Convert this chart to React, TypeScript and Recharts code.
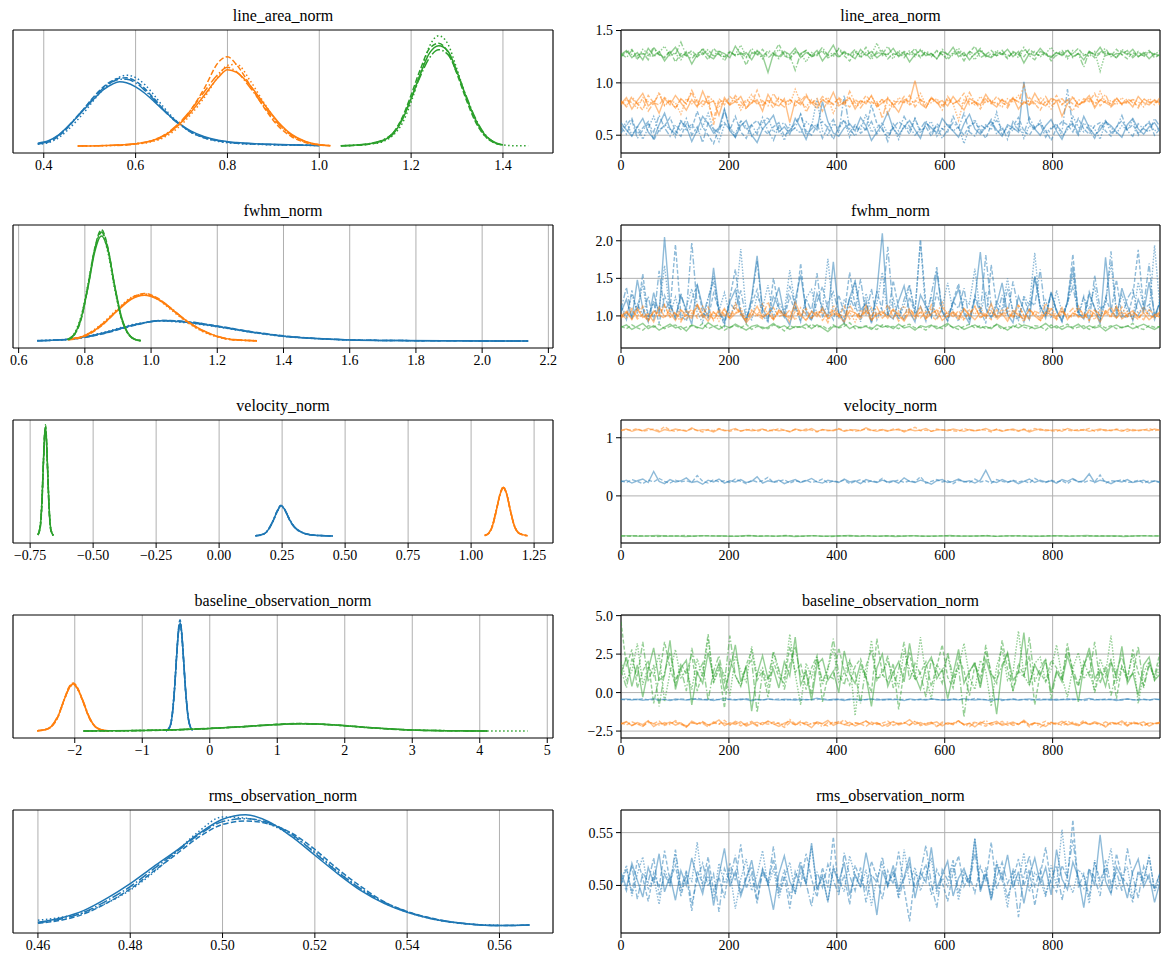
import { LineChart, Line, XAxis, YAxis, CartesianGrid, ReferenceArea } from "recharts";

const C0 = "#1f77b4";
const C1 = "#ff7f0e";
const C2 = "#2ca02c";
const FONT = "'Liberation Serif', 'DejaVu Serif', serif";

// ---- line_area_norm ----
const laGridBlue = [0.387, 0.41, 0.43, 0.45, 0.47, 0.49, 0.51, 0.53, 0.55, 0.565, 0.58, 0.6, 0.62, 0.64, 0.66, 0.68, 0.7, 0.72, 0.75, 0.78, 0.82, 0.86, 0.9, 0.95, 1.0];
const laKdeBlue = [
  [2.5, 4.5, 9, 16, 24, 32.5, 41, 48.5, 53.5, 55.3, 54.5, 51, 45.5, 38.5, 31, 24, 18, 13, 8, 5, 3, 2, 1.5, 1, 0.5],
  [1.8, 3.5, 8, 15, 24, 33.5, 43, 51, 56.5, 58.5, 58.8, 56, 49.5, 41, 32, 24, 17.5, 12, 7, 4.5, 2.5, 1.8, 1.2, 0.8, 0.5],
  [2, 4, 8.5, 15.5, 24.5, 33, 42, 50, 55.5, 57.5, 57.5, 54.5, 48, 40, 31.5, 23.5, 17.5, 12.5, 7.5, 4.5, 2.6, 1.8, 1.3, 0.9, 0.5],
  [1.5, 3, 6.5, 13, 21, 30, 40, 49, 56, 59.5, 61, 59, 53, 44, 34, 25, 18, 12, 7, 4, 2.2, 1.5, 1, 0.7, 0.4],
];
const laGridOrange = [0.474, 0.52, 0.56, 0.6, 0.63, 0.66, 0.69, 0.72, 0.75, 0.78, 0.8, 0.82, 0.85, 0.88, 0.91, 0.94, 0.97, 1.0, 1.024];
const laKdeOrange = [
  [0.1, 0.3, 0.8, 2, 4, 8.5, 17, 29, 44, 59, 65.8, 63.5, 52, 36, 21, 10, 4, 1.2, 0.4],
  [null, null, 0.5, 1.8, 3.8, 8, 17, 31, 50, 72, 77, 70, 52, 33, 17.5, 8, 3, 0.9, 0.3],
  [0.1, 0.3, 0.8, 2.1, 4.2, 9, 18, 31, 47, 62, 68, 64, 50, 34, 19.5, 9.5, 3.8, 1.1, 0.4],
  [0.1, 0.2, 0.6, 1.6, 3.3, 7, 15, 27, 42, 60, 69.5, 70.5, 56, 37, 20, 9, 3.5, 1, 0.3],
];
const laGridGreen = [1.047, 1.08, 1.11, 1.14, 1.16, 1.18, 1.2, 1.22, 1.24, 1.26, 1.28, 1.3, 1.32, 1.34, 1.36, 1.38, 1.4, 1.43, 1.455];
const laKdeGreen = [
  [0.3, 0.8, 2, 5, 10, 22, 41, 62, 80, 86.5, 82, 64, 42, 23, 10, 3.5, 1, null, null],
  [0.2, 0.6, 1.8, 5, 11, 24, 44, 66, 84, 88.5, 81, 62, 40, 21, 9, 3, 0.8, null, null],
  [0.3, 0.8, 2.2, 5.5, 11, 23, 41, 60, 76, 83, 79, 63, 43, 24, 10.5, 3.5, 1, null, null],
  [0.3, 0.7, 1.6, 4, 9, 19, 38, 62, 86, 95, 88, 66, 42, 22, 9, 3, 1, 0.2, 0.2],
];
const laTraceBlue = [
  [0.62, 0.55, 0.49, 0.58, 0.66, 0.53, 0.47, 0.6, 0.71, 0.56, 0.51, 0.63, 0.58, 0.44, 0.55, 0.68, 0.61, 0.52, 0.57, 0.75,
   0.54, 0.48, 0.59, 0.64, 0.5, 0.43, 0.56, 0.62, 0.69, 0.53, 0.58, 0.51, 0.66, 0.57, 0.46, 0.6, 0.55, 0.82, 0.63, 0.52,
   0.49, 0.57, 0.61, 0.54, 0.67, 0.59, 0.45, 0.53, 0.6, 0.72, 0.56, 0.5, 0.58, 0.64, 0.55, 0.47, 0.62, 0.57, 0.52, 0.66,
   0.59, 0.54, 0.48, 0.61, 0.7, 0.56, 0.51, 0.58, 0.63, 0.55, 0.49, 0.6, 0.57, 0.53, 1.01, 0.62, 0.56, 0.5, 0.59, 0.65,
   0.54, 0.46, 0.58, 0.61, 0.52, 0.68, 0.57, 0.5, 0.55, 0.63, 0.59, 0.53, 0.48, 0.6, 0.66, 0.56, 0.51, 0.58, 0.62, 0.54],
  [0.52, 0.6, 0.66, 0.51, 0.57, 0.63, 0.45, 0.55, 0.59, 0.67, 0.54, 0.49, 0.61, 0.56, 0.73, 0.58, 0.5, 0.42, 0.57, 0.62,
   0.55, 0.68, 0.53, 0.47, 0.6, 0.64, 0.56, 0.51, 0.58, 0.62, 0.49, 0.55, 0.61, 0.7, 0.54, 0.5, 0.59, 0.63, 0.57, 0.46,
   0.58, 0.65, 0.53, 0.6, 0.52, 0.56, 0.79, 0.61, 0.55, 0.48, 0.57, 0.63, 0.59, 0.51, 0.66, 0.54, 0.58, 0.49, 0.61, 0.56,
   0.53, 0.68, 0.57, 0.5, 0.59, 0.62, 0.55, 0.47, 0.6, 0.64, 0.56, 0.52, 0.59, 0.67, 0.54, 0.5, 0.58, 0.61, 0.55, 0.45,
   0.57, 0.63, 0.6, 0.53, 0.66, 0.56, 0.51, 0.59, 0.62, 0.54, 0.49, 0.58, 0.64, 0.55, 0.6, 0.52, 0.57, 0.63, 0.5, 0.56],
  [0.58, 0.51, 0.64, 0.47, 0.55, 0.61, 0.53, 0.69, 0.57, 0.49, 0.6, 0.54, 0.66, 0.5, 0.58, 0.43, 0.62, 0.56, 0.52, 0.74,
   0.57, 0.48, 0.63, 0.55, 0.6, 0.51, 0.67, 0.54, 0.45, 0.59, 0.62, 0.53, 0.57, 0.7, 0.5, 0.56, 0.61, 0.47, 0.58, 0.65,
   0.52, 0.88, 0.56, 0.49, 0.6, 0.55, 0.63, 0.51, 0.57, 0.44, 0.61, 0.54, 0.68, 0.58, 0.5, 0.56, 0.64, 0.52, 0.59, 0.47,
   0.55, 0.62, 0.57, 0.71, 0.53, 0.49, 0.6, 0.56, 0.65, 0.51, 0.58, 0.46, 0.63, 0.55, 0.52, 0.67, 0.57, 0.61, 0.48, 0.56,
   0.6, 0.53, 0.94, 0.58, 0.5, 0.62, 0.55, 0.47, 0.59, 0.64, 0.52, 0.57, 0.69, 0.54, 0.49, 0.61, 0.56, 0.53, 0.66, 0.58],
  [0.55, 0.63, 0.5, 0.59, 0.46, 0.57, 0.68, 0.53, 0.6, 0.56, 0.48, 0.65, 0.54, 0.61, 0.52, 0.58, 0.71, 0.55, 0.44, 0.6,
   0.57, 0.51, 0.64, 0.58, 0.49, 0.55, 0.62, 0.67, 0.53, 0.57, 0.45, 0.6, 0.56, 0.52, 0.63, 0.58, 0.85, 0.54, 0.5, 0.61,
   0.56, 0.64, 0.48, 0.59, 0.55, 0.7, 0.53, 0.57, 0.62, 0.51, 0.58, 0.46, 0.6, 0.55, 0.66, 0.52, 0.59, 0.63, 0.49, 0.56,
   0.61, 0.54, 0.58, 0.42, 0.57, 0.65, 0.53, 0.6, 0.55, 0.72, 0.5, 0.58, 0.54, 0.62, 0.47, 0.59, 0.56, 0.64, 0.52, 0.57,
   0.61, 0.49, 0.55, 0.68, 0.58, 0.53, 0.6, 0.56, 0.46, 0.63, 0.57, 0.52, 0.59, 0.55, 0.65, 0.5, 0.58, 0.62, 0.54, 0.57],
];
const laTraceOrange = [
  [0.8, 0.86, 0.75, 0.83, 0.9, 0.78, 0.82, 0.71, 0.85, 0.79, 0.88, 0.81, 0.74, 0.84, 0.77, 0.92, 0.8, 0.83, 0.69, 0.86,
   0.79, 0.82, 0.87, 0.76, 0.81, 0.84, 0.73, 0.89, 0.8, 0.78, 0.85, 0.62, 0.83, 0.79, 0.87, 0.81, 0.76, 0.84, 0.8, 0.91,
   0.78, 0.82, 0.86, 0.75, 0.83, 0.8, 0.88, 0.77, 0.81, 0.85, 0.79, 0.72, 0.84, 0.82, 1.02, 0.8, 0.76, 0.86, 0.81, 0.83,
   0.78, 0.87, 0.8, 0.74, 0.85, 0.82, 0.79, 0.89, 0.81, 0.77, 0.84, 0.8, 0.86, 0.75, 0.82, 0.79, 0.9, 0.81, 0.78, 0.85,
   0.83, 0.68, 0.8, 0.86, 0.79, 0.82, 0.88, 0.76, 0.84, 0.81, 0.78, 0.85, 0.8, 0.83, 0.77, 0.87, 0.81, 0.79, 0.84, 0.8],
  [0.83, 0.77, 0.85, 0.8, 0.74, 0.88, 0.81, 0.79, 0.86, 0.82, 0.76, 0.84, 0.8, 0.91, 0.78, 0.83, 0.81, 0.65, 0.85, 0.79,
   0.87, 0.82, 0.78, 0.84, 0.8, 0.93, 0.79, 0.83, 0.76, 0.86, 0.81, 0.84, 0.78, 0.82, 0.89, 0.8, 0.85, 0.73, 0.83, 0.79,
   0.86, 0.81, 0.77, 0.84, 0.8, 0.88, 0.82, 0.78, 0.85, 0.7, 0.83, 0.8, 0.87, 0.79, 0.82, 0.84, 0.76, 0.86, 0.81, 0.78,
   0.85, 0.8, 0.83, 0.9, 0.79, 0.82, 0.75, 0.84, 0.8, 0.87, 0.81, 0.78, 0.85, 0.82, 0.79, 0.86, 0.8, 0.74, 0.83, 0.81,
   0.88, 0.79, 0.84, 0.8, 0.77, 0.85, 0.82, 0.9, 0.78, 0.83, 0.8, 0.86, 0.79, 0.82, 0.84, 0.76, 0.85, 0.81, 0.83, 0.79],
  [0.82, 0.78, 0.87, 0.8, 0.84, 0.73, 0.81, 0.89, 0.79, 0.83, 0.76, 0.85, 0.8, 0.93, 0.82, 0.77, 0.86, 0.6, 0.81, 0.84,
   0.79, 0.88, 0.82, 0.75, 0.85, 0.8, 0.83, 0.78, 0.9, 0.81, 0.77, 0.84, 0.8, 0.86, 0.72, 0.82, 0.79, 0.87, 0.83, 0.8,
   0.85, 0.78, 0.92, 0.81, 0.76, 0.84, 0.8, 0.82, 0.66, 0.86, 0.79, 0.83, 0.81, 0.88, 0.77, 0.84, 0.8, 0.85, 0.82, 0.74,
   0.87, 0.8, 0.83, 0.79, 0.91, 0.81, 0.78, 0.86, 0.82, 0.8, 0.84, 0.76, 0.85, 0.81, 0.98, 0.79, 0.83, 0.8, 0.87, 0.78,
   0.82, 0.85, 0.79, 0.73, 0.84, 0.81, 0.86, 0.8, 0.83, 0.89, 0.77, 0.82, 0.8, 0.85, 0.81, 0.78, 0.84, 0.82, 0.79, 0.86],
  [0.79, 0.84, 0.81, 0.76, 0.86, 0.82, 0.8, 0.91, 0.78, 0.83, 0.81, 0.7, 0.85, 0.8, 0.84, 0.79, 0.88, 0.82, 0.77, 0.83,
   0.8, 0.86, 0.74, 0.82, 0.89, 0.81, 0.78, 0.84, 0.8, 0.85, 0.82, 0.79, 0.94, 0.81, 0.77, 0.84, 0.8, 0.83, 0.86, 0.71,
   0.82, 0.8, 0.85, 0.78, 0.83, 0.81, 0.87, 0.79, 0.84, 0.8, 0.76, 0.86, 0.82, 0.8, 0.83, 0.9, 0.79, 0.81, 0.85, 0.78,
   0.83, 0.8, 0.64, 0.84, 0.82, 0.79, 0.87, 0.81, 0.84, 0.8, 0.77, 0.85, 0.82, 0.88, 0.8, 0.83, 0.79, 0.86, 0.81, 0.75,
   0.84, 0.8, 0.83, 0.87, 0.79, 0.82, 0.85, 0.78, 0.92, 0.81, 0.83, 0.79, 0.86, 0.8, 0.84, 0.82, 0.77, 0.85, 0.81, 0.83],
];
const laTraceGreen = [
  [1.27, 1.31, 1.24, 1.29, 1.22, 1.33, 1.26, 1.3, 1.21, 1.28, 1.34, 1.25, 1.29, 1.18, 1.27, 1.32, 1.26, 1.23, 1.3, 1.28,
   1.24, 1.35, 1.27, 1.29, 1.22, 1.31, 1.26, 1.1, 1.28, 1.25, 1.3, 1.27, 1.33, 1.24, 1.29, 1.26, 1.31, 1.21, 1.28, 1.36,
   1.25, 1.29, 1.27, 1.23, 1.32, 1.26, 1.3, 1.24, 1.28, 1.27, 1.33, 1.25, 1.29, 1.2, 1.27, 1.31, 1.26, 1.28, 1.23, 1.3,
   1.27, 1.34, 1.25, 1.29, 1.22, 1.28, 1.31, 1.26, 1.24, 1.29, 1.27, 1.32, 1.25, 1.3, 1.19, 1.28, 1.26, 1.33, 1.27, 1.24,
   1.29, 1.26, 1.31, 1.25, 1.28, 1.22, 1.3, 1.27, 1.34, 1.26, 1.28, 1.24, 1.3, 1.27, 1.32, 1.25, 1.29, 1.23, 1.28, 1.26],
  [1.25, 1.29, 1.32, 1.23, 1.28, 1.26, 1.34, 1.27, 1.24, 1.3, 1.2, 1.28, 1.26, 1.31, 1.25, 1.29, 1.22, 1.33, 1.27, 1.25,
   1.3, 1.26, 1.28, 1.17, 1.29, 1.27, 1.32, 1.24, 1.28, 1.37, 1.26, 1.23, 1.29, 1.27, 1.31, 1.25, 1.28, 1.3, 1.24, 1.27,
   1.32, 1.26, 1.21, 1.29, 1.27, 1.34, 1.25, 1.28, 1.31, 1.23, 1.28, 1.26, 1.3, 1.27, 1.33, 1.24, 1.29, 1.25, 1.31, 1.27,
   1.22, 1.28, 1.3, 1.26, 1.29, 1.35, 1.24, 1.27, 1.31, 1.26, 1.28, 1.23, 1.3, 1.27, 1.25, 1.32, 1.28, 1.26, 1.29, 1.21,
   1.27, 1.31, 1.25, 1.28, 1.33, 1.26, 1.29, 1.24, 1.28, 1.3, 1.26, 1.32, 1.27, 1.23, 1.29, 1.25, 1.28, 1.31, 1.24, 1.27],
  [1.28, 1.24, 1.31, 1.26, 1.29, 1.22, 1.33, 1.27, 1.25, 1.3, 1.27, 1.39, 1.26, 1.23, 1.29, 1.27, 1.32, 1.25, 1.28, 1.21,
   1.3, 1.26, 1.29, 1.24, 1.33, 1.27, 1.25, 1.31, 1.28, 1.23, 1.29, 1.26, 1.12, 1.28, 1.31, 1.25, 1.27, 1.34, 1.26, 1.29,
   1.24, 1.3, 1.27, 1.32, 1.25, 1.28, 1.22, 1.3, 1.27, 1.35, 1.26, 1.29, 1.24, 1.31, 1.27, 1.25, 1.3, 1.28, 1.23, 1.32,
   1.27, 1.26, 1.29, 1.21, 1.3, 1.27, 1.33, 1.25, 1.28, 1.26, 1.31, 1.24, 1.29, 1.27, 1.34, 1.26, 1.22, 1.3, 1.28, 1.25,
   1.29, 1.27, 1.32, 1.24, 1.28, 1.15, 1.3, 1.26, 1.29, 1.33, 1.25, 1.28, 1.27, 1.31, 1.24, 1.29, 1.26, 1.3, 1.27, 1.25],
  [1.26, 1.3, 1.27, 1.23, 1.32, 1.28, 1.25, 1.29, 1.35, 1.26, 1.28, 1.22, 1.3, 1.27, 1.25, 1.33, 1.28, 1.26, 1.31, 1.24,
   1.29, 1.27, 1.36, 1.25, 1.28, 1.3, 1.23, 1.29, 1.26, 1.32, 1.27, 1.24, 1.3, 1.28, 1.2, 1.29, 1.26, 1.31, 1.27, 1.25,
   1.33, 1.28, 1.26, 1.3, 1.24, 1.29, 1.27, 1.38, 1.26, 1.28, 1.23, 1.31, 1.27, 1.29, 1.25, 1.32, 1.28, 1.26, 1.3, 1.27,
   1.24, 1.29, 1.33, 1.26, 1.28, 1.22, 1.3, 1.27, 1.25, 1.31, 1.28, 1.26, 1.29, 1.24, 1.32, 1.27, 1.3, 1.25, 1.28, 1.34,
   1.26, 1.29, 1.23, 1.31, 1.27, 1.28, 1.25, 1.3, 1.11, 1.29, 1.27, 1.24, 1.32, 1.28, 1.26, 1.3, 1.25, 1.29, 1.27, 1.31],
];

// ---- fwhm_norm ----
const fwGridBlue = [0.656, 0.75, 0.85, 0.95, 1.03, 1.1, 1.2, 1.3, 1.4, 1.5, 1.6, 1.75, 1.9, 2.05, 2.139];
const fwKdeBlue = [
  [0.3, 1.5, 6.5, 14, 17.5, 16.5, 12.5, 7.8, 4.2, 2.1, 1.0, 0.4, 0.2, 0.1, 0.1],
  [0.3, 1.3, 6, 13.5, 17.8, 17, 13, 8.2, 4.5, 2.2, 1.0, 0.4, 0.2, 0.1, 0.1],
  [0.3, 1.4, 6.2, 13.8, 17.6, 16.8, 12.8, 8, 4.3, 2.1, 1.0, 0.4, 0.2, 0.1, 0.1],
  [0.4, 1.6, 7, 14.5, 17.2, 16, 12.2, 7.6, 4, 2, 0.9, 0.4, 0.2, 0.1, 0.1],
];
const fwGridOrange = [0.75, 0.8, 0.85, 0.9, 0.94, 0.98, 1.02, 1.06, 1.1, 1.15, 1.2, 1.25, 1.32];
const fwKdeOrange = [
  [1.5, 4.5, 13.5, 26.5, 36, 39.5, 36, 28, 19, 10, 4, 1.2, 0.3],
  [1, 4, 13, 27, 37, 41, 37, 28, 18.5, 9.5, 3.8, 1, 0.3],
  [1.3, 4.8, 14, 27, 36.5, 40, 36.5, 28.5, 19, 10, 4.2, 1.3, 0.3],
  [1.2, 5, 14.5, 28, 37.5, 40.5, 36, 27, 18, 9, 3.5, 1, 0.2],
];
const fwGridGreen = [0.748, 0.77, 0.79, 0.81, 0.83, 0.85, 0.87, 0.89, 0.91, 0.93, 0.95, 0.969];
const fwKdeGreen = [
  [1.3, 6.5, 21, 47, 77, 90.5, 78, 48, 21.5, 7, 1.6, 0.4],
  [1.0, 6, 20, 48, 80, 96, 80, 47, 20, 6.5, 1.5, 0.3],
  [1.2, 6.2, 21, 48, 79, 94, 79, 47, 20.5, 6.8, 1.5, 0.3],
  [1.5, 7.5, 23, 50, 80, 93, 76, 45, 20, 6.5, 1.5, 0.4],
];
const fwTraceBlue = [
  [1.05, 1.22, 0.96, 1.48, 1.1, 0.92, 1.31, 1.02, 2.05, 1.15, 0.98, 1.27, 1.08, 0.89, 1.42, 1.12, 1.0, 1.64, 1.06, 0.94,
   1.19, 1.35, 1.03, 0.91, 1.25, 1.8, 1.09, 0.97, 1.14, 1.38, 1.01, 0.88, 1.21, 1.55, 1.07, 0.95, 1.3, 1.11, 0.99, 1.72,
   1.04, 0.93, 1.24, 1.46, 1.08, 1.16, 0.9, 1.33, 2.1, 1.02, 0.96, 1.2, 1.4, 1.06, 0.92, 1.28, 1.13, 0.99, 1.6, 1.05,
   0.94, 1.18, 1.36, 1.03, 0.9, 1.23, 1.85, 1.1, 0.97, 1.15, 1.44, 1.02, 0.91, 1.26, 1.08, 0.95, 1.52, 1.12, 1.0, 1.32,
   1.06, 0.93, 1.2, 1.66, 1.04, 0.96, 1.29, 1.11, 0.89, 1.78, 1.07, 0.98, 1.37, 1.14, 0.94, 1.22, 1.05, 1.45, 1.01, 1.17],
  [1.12, 0.95, 1.34, 1.03, 1.56, 0.99, 1.18, 0.9, 1.27, 1.07, 1.95, 1.01, 0.93, 1.22, 1.41, 1.05, 0.97, 1.3, 1.09, 0.87,
   1.24, 1.62, 1.04, 0.96, 1.16, 1.35, 1.0, 0.92, 1.5, 1.11, 0.98, 1.26, 1.06, 1.7, 1.02, 0.94, 1.19, 1.39, 1.08, 0.95,
   1.28, 1.03, 1.58, 1.13, 0.97, 1.21, 0.91, 1.33, 1.07, 1.0, 1.47, 1.1, 0.94, 1.25, 1.04, 2.02, 1.15, 0.98, 1.31, 1.06,
   0.93, 1.2, 1.43, 1.05, 0.96, 1.27, 1.09, 0.9, 1.68, 1.12, 1.01, 1.36, 1.07, 0.95, 1.23, 1.04, 1.53, 1.14, 0.97, 1.29,
   1.08, 0.92, 1.19, 1.82, 1.03, 0.99, 1.32, 1.1, 0.94, 1.24, 1.06, 1.48, 1.01, 0.97, 1.26, 1.88, 1.09, 1.15, 0.95, 1.21],
  [1.09, 1.38, 0.97, 1.16, 1.02, 1.26, 0.93, 1.6, 1.07, 1.19, 0.95, 1.3, 1.04, 1.98, 1.12, 0.99, 1.24, 1.45, 1.03, 0.91,
   1.17, 1.08, 1.34, 0.96, 1.21, 1.73, 1.05, 0.94, 1.27, 1.11, 1.0, 1.4, 1.14, 0.92, 1.23, 1.06, 1.57, 0.98, 1.18, 1.32,
   1.04, 0.9, 1.25, 1.09, 1.49, 1.01, 1.36, 0.95, 1.15, 1.92, 1.07, 0.97, 1.22, 1.42, 1.03, 1.13, 0.93, 1.29, 1.65, 1.06,
   0.99, 1.19, 1.1, 1.37, 0.94, 1.24, 1.04, 1.81, 1.12, 0.97, 1.28, 1.02, 1.46, 1.08, 0.92, 1.2, 1.14, 1.62, 1.0, 1.31,
   1.06, 0.95, 1.18, 1.39, 1.03, 1.26, 0.91, 1.54, 1.09, 1.16, 1.86, 1.05, 0.98, 1.23, 1.35, 1.01, 1.12, 1.7, 0.96, 1.19],
  [1.14, 0.99, 1.29, 1.06, 1.43, 0.94, 1.2, 1.08, 1.67, 1.02, 1.25, 0.96, 1.12, 1.36, 1.04, 0.91, 1.22, 1.53, 1.07, 1.31,
   1.0, 1.15, 1.89, 1.03, 0.95, 1.27, 1.1, 1.41, 0.98, 1.18, 1.05, 1.61, 1.13, 0.93, 1.24, 1.35, 1.01, 1.09, 1.76, 1.04,
   0.97, 1.21, 1.12, 1.47, 0.92, 1.3, 1.06, 1.17, 1.58, 1.0, 1.23, 0.95, 1.14, 1.38, 1.07, 1.99, 1.02, 1.26, 0.96, 1.11,
   1.44, 1.05, 0.93, 1.22, 1.16, 1.63, 1.03, 1.32, 0.98, 1.19, 1.08, 1.5, 1.01, 0.94, 1.27, 1.13, 1.84, 1.06, 1.21, 0.97,
   1.34, 1.04, 1.15, 1.56, 0.99, 1.24, 1.09, 1.4, 0.95, 1.18, 1.71, 1.02, 1.28, 1.07, 0.96, 1.45, 1.12, 1.03, 1.94, 1.1],
];
const fwTraceOrange = [
  [1.0, 1.06, 0.95, 1.09, 0.98, 1.03, 0.92, 1.12, 0.99, 1.04, 0.94, 1.08, 1.01, 0.97, 1.15, 1.02, 0.93, 1.05, 0.99, 1.1,
   0.96, 1.03, 1.07, 0.91, 1.0, 1.13, 0.98, 1.04, 0.95, 1.08, 1.01, 0.97, 1.18, 1.02, 0.94, 1.06, 0.99, 1.11, 0.96, 1.03,
   1.0, 0.92, 1.07, 1.04, 0.98, 1.14, 0.95, 1.02, 1.06, 0.97, 1.09, 1.01, 0.93, 1.05, 0.99, 1.12, 0.96, 1.03, 1.08, 0.94,
   1.0, 1.06, 0.97, 1.1, 1.02, 0.95, 1.04, 0.99, 1.16, 0.98, 1.03, 0.93, 1.07, 1.01, 0.96, 1.09, 1.0, 0.94, 1.05, 1.02,
   0.98, 1.11, 0.95, 1.04, 1.0, 0.97, 1.08, 1.03, 0.92, 1.06, 0.99, 1.13, 0.96, 1.02, 1.07, 0.98, 1.04, 0.95, 1.01, 1.05],
  [0.97, 1.04, 1.1, 0.96, 1.02, 0.93, 1.07, 1.0, 1.14, 0.98, 1.05, 0.95, 1.01, 1.09, 0.97, 1.03, 1.12, 0.94, 1.06, 1.0,
   0.98, 1.17, 1.02, 0.95, 1.08, 1.01, 0.96, 1.04, 1.11, 0.99, 1.03, 0.92, 1.06, 1.0, 1.1, 0.97, 1.05, 0.94, 1.02, 1.08,
   0.99, 1.13, 0.96, 1.03, 1.0, 1.07, 0.93, 1.05, 1.01, 1.15, 0.98, 1.04, 0.95, 1.09, 1.02, 0.97, 1.06, 1.0, 0.94, 1.11,
   1.03, 0.99, 1.07, 0.96, 1.04, 1.12, 0.98, 1.02, 0.95, 1.08, 1.01, 1.05, 0.97, 1.14, 1.0, 0.96, 1.06, 1.03, 0.99, 1.09,
   0.95, 1.04, 1.01, 0.98, 1.1, 1.02, 0.94, 1.07, 1.0, 1.03, 1.12, 0.97, 1.05, 0.99, 1.02, 0.95, 1.08, 1.01, 0.98, 1.04],
  [1.02, 0.96, 1.08, 0.99, 1.13, 0.94, 1.05, 1.01, 0.97, 1.1, 1.03, 0.92, 1.07, 1.0, 1.16, 0.98, 1.04, 0.95, 1.09, 1.02,
   0.97, 1.12, 1.01, 0.93, 1.06, 1.03, 0.99, 1.19, 0.96, 1.05, 1.0, 1.08, 0.94, 1.11, 1.02, 0.97, 1.06, 1.04, 0.91, 1.09,
   1.01, 0.98, 1.14, 1.03, 0.95, 1.07, 1.0, 1.12, 0.97, 1.04, 1.08, 0.93, 1.02, 1.1, 0.99, 1.05, 0.96, 1.15, 1.01, 0.98,
   1.06, 1.03, 0.94, 1.09, 1.0, 1.13, 0.97, 1.04, 1.07, 0.95, 1.02, 1.11, 0.99, 1.05, 0.92, 1.08, 1.03, 0.97, 1.17, 1.0,
   0.96, 1.06, 1.02, 1.1, 0.98, 1.04, 0.94, 1.09, 1.01, 1.07, 1.03, 0.97, 1.12, 0.99, 1.05, 1.0, 0.95, 1.08, 1.02, 0.98],
  [0.99, 1.05, 0.96, 1.11, 1.01, 0.94, 1.07, 1.03, 1.15, 0.98, 1.02, 1.09, 0.95, 1.04, 1.0, 1.13, 0.97, 1.06, 0.93, 1.08,
   1.01, 1.04, 1.1, 0.96, 1.03, 0.99, 1.16, 1.02, 0.95, 1.07, 1.05, 0.98, 1.12, 1.0, 0.94, 1.06, 1.02, 1.09, 0.97, 1.14,
   1.03, 0.99, 1.05, 0.92, 1.08, 1.01, 1.11, 0.96, 1.04, 1.0, 0.97, 1.07, 1.13, 1.02, 0.95, 1.06, 0.99, 1.1, 1.03, 1.18,
   0.98, 1.04, 1.01, 0.94, 1.08, 1.02, 1.12, 0.97, 1.05, 1.0, 1.09, 0.96, 1.03, 1.15, 1.01, 0.98, 1.06, 0.93, 1.04, 1.11,
   1.0, 1.07, 0.97, 1.02, 1.13, 0.99, 1.05, 0.95, 1.08, 1.03, 0.98, 1.1, 1.01, 1.06, 0.96, 1.04, 1.12, 1.0, 0.97, 1.05],
];
const fwTraceGreen = [
  [0.85, 0.88, 0.82, 0.86, 0.9, 0.83, 0.87, 0.81, 0.85, 0.89, 0.84, 0.86, 0.8, 0.88, 0.85, 0.83, 0.91, 0.86, 0.82, 0.87,
   0.84, 0.89, 0.85, 0.81, 0.86, 0.88, 0.83, 0.85, 0.9, 0.84, 0.87, 0.82, 0.86, 0.85, 0.89, 0.83, 0.88, 0.84, 0.79, 0.86,
   0.85, 0.9, 0.83, 0.87, 0.84, 0.86, 0.82, 0.88, 0.85, 0.87, 0.83, 0.89, 0.84, 0.86, 0.81, 0.87, 0.85, 0.88, 0.83, 0.86,
   0.9, 0.84, 0.87, 0.82, 0.85, 0.88, 0.84, 0.86, 0.83, 0.89, 0.85, 0.81, 0.87, 0.84, 0.88, 0.86, 0.83, 0.85, 0.9, 0.84,
   0.87, 0.82, 0.86, 0.85, 0.89, 0.83, 0.87, 0.84, 0.86, 0.8, 0.85, 0.88, 0.84, 0.87, 0.83, 0.86, 0.89, 0.85, 0.82, 0.86],
  [0.86, 0.83, 0.88, 0.84, 0.81, 0.87, 0.85, 0.89, 0.83, 0.86, 0.88, 0.82, 0.85, 0.87, 0.84, 0.9, 0.83, 0.86, 0.88, 0.81,
   0.85, 0.87, 0.84, 0.89, 0.82, 0.86, 0.85, 0.83, 0.88, 0.86, 0.8, 0.87, 0.84, 0.86, 0.83, 0.89, 0.85, 0.87, 0.82, 0.88,
   0.84, 0.86, 0.91, 0.83, 0.85, 0.87, 0.84, 0.82, 0.88, 0.85, 0.86, 0.83, 0.87, 0.89, 0.84, 0.85, 0.81, 0.87, 0.86, 0.83,
   0.88, 0.85, 0.82, 0.86, 0.89, 0.84, 0.87, 0.83, 0.85, 0.88, 0.82, 0.86, 0.84, 0.9, 0.85, 0.83, 0.87, 0.86, 0.81, 0.88,
   0.84, 0.86, 0.89, 0.83, 0.85, 0.87, 0.82, 0.86, 0.88, 0.84, 0.87, 0.83, 0.85, 0.86, 0.9, 0.84, 0.82, 0.87, 0.85, 0.86],
];

// ---- velocity_norm ----
const veGridGreen = [-0.719, -0.71, -0.703, -0.697, -0.692, -0.689, -0.686, -0.681, -0.675, -0.668, -0.658];
const veKdeGreen = [
  [1, 8, 30, 65, 88, 92, 86, 60, 26, 6, 0.5],
  [0.8, 7, 28, 64, 90, 96, 88, 58, 24, 5, 0.4],
  [1, 8.5, 31, 66, 89, 93, 85, 59, 25, 5.5, 0.5],
  [1.2, 9, 32, 66, 87, 94, 87, 61, 27, 6.5, 0.6],
];
const veGridBlue = [0.144, 0.17, 0.19, 0.21, 0.23, 0.245, 0.26, 0.28, 0.3, 0.33, 0.36, 0.4, 0.452];
const veKdeBlue = [
  [0.2, 1.2, 4, 11, 21, 26, 23, 14, 7.5, 3, 1.2, 0.4, 0.1],
  [0.2, 1, 3.8, 11, 21.5, 26.5, 23, 13.5, 7.2, 2.9, 1.1, 0.4, 0.1],
  [0.2, 1.3, 4.2, 11.5, 21, 25.8, 22.5, 14, 7.6, 3.1, 1.2, 0.4, 0.1],
  [0.3, 1.2, 4, 10.8, 20.5, 26.2, 23.2, 14.2, 7.4, 3, 1.1, 0.4, 0.1],
];
const veGridOrange = [1.054, 1.07, 1.085, 1.1, 1.115, 1.128, 1.14, 1.155, 1.17, 1.19, 1.224];
const veKdeOrange = [
  [0.5, 2.5, 9, 22, 36, 42, 37, 23, 10, 2.5, 0.3],
  [0.4, 2.2, 8.5, 21.5, 36.5, 42.5, 37, 22.5, 9.5, 2.3, 0.3],
  [0.5, 2.6, 9.5, 22.5, 35.5, 41.5, 36.5, 23, 10.2, 2.6, 0.3],
  [0.5, 2.4, 9, 22, 36, 41.8, 37.2, 23.4, 10, 2.5, 0.3],
];
const veTraceBlue = [
  [0.24, 0.27, 0.22, 0.26, 0.29, 0.23, 0.42, 0.25, 0.21, 0.28, 0.24, 0.26, 0.31, 0.23, 0.25, 0.2, 0.27, 0.24, 0.29, 0.22,
   0.26, 0.24, 0.28, 0.23, 0.25, 0.33, 0.22, 0.26, 0.24, 0.27, 0.21, 0.25, 0.28, 0.23, 0.26, 0.3, 0.24, 0.22, 0.27, 0.25,
   0.23, 0.29, 0.24, 0.26, 0.21, 0.28, 0.25, 0.23, 0.27, 0.24, 0.26, 0.22, 0.31, 0.25, 0.23, 0.27, 0.24, 0.2, 0.26, 0.28,
   0.23, 0.25, 0.29, 0.24, 0.26, 0.22, 0.27, 0.44, 0.25, 0.23, 0.28, 0.24, 0.26, 0.21, 0.25, 0.29, 0.23, 0.27, 0.24, 0.26,
   0.22, 0.28, 0.25, 0.3, 0.24, 0.26, 0.38, 0.23, 0.27, 0.25, 0.21, 0.26, 0.24, 0.28, 0.23, 0.25, 0.27, 0.22, 0.26, 0.24],
  [0.26, 0.23, 0.28, 0.25, 0.21, 0.27, 0.24, 0.3, 0.25, 0.22, 0.27, 0.24, 0.26, 0.23, 0.35, 0.25, 0.22, 0.28, 0.24, 0.26,
   0.23, 0.29, 0.25, 0.21, 0.27, 0.24, 0.26, 0.32, 0.23, 0.25, 0.28, 0.22, 0.26, 0.24, 0.27, 0.23, 0.25, 0.29, 0.22, 0.26,
   0.24, 0.27, 0.21, 0.25, 0.28, 0.23, 0.26, 0.24, 0.3, 0.22, 0.25, 0.27, 0.23, 0.26, 0.24, 0.33, 0.22, 0.25, 0.28, 0.24,
   0.26, 0.21, 0.27, 0.25, 0.23, 0.29, 0.24, 0.26, 0.22, 0.28, 0.25, 0.23, 0.27, 0.24, 0.26, 0.22, 0.3, 0.25, 0.23, 0.27,
   0.24, 0.26, 0.21, 0.28, 0.25, 0.23, 0.27, 0.24, 0.36, 0.22, 0.26, 0.25, 0.28, 0.23, 0.24, 0.27, 0.22, 0.26, 0.25, 0.23],
];
const veTraceOrange = [
  [1.13, 1.15, 1.11, 1.14, 1.12, 1.16, 1.13, 1.1, 1.14, 1.12, 1.15, 1.13, 1.11, 1.17, 1.12, 1.14, 1.13, 1.1, 1.15, 1.12,
   1.13, 1.16, 1.11, 1.14, 1.12, 1.13, 1.15, 1.11, 1.14, 1.12, 1.13, 1.1, 1.15, 1.13, 1.12, 1.16, 1.11, 1.14, 1.13, 1.12,
   1.15, 1.11, 1.13, 1.14, 1.12, 1.17, 1.13, 1.11, 1.14, 1.12, 1.13, 1.15, 1.1, 1.14, 1.12, 1.13, 1.16, 1.11, 1.13, 1.14,
   1.12, 1.15, 1.13, 1.11, 1.14, 1.12, 1.13, 1.16, 1.12, 1.14, 1.11, 1.13, 1.15, 1.12, 1.14, 1.1, 1.13, 1.15, 1.12, 1.13,
   1.14, 1.11, 1.16, 1.13, 1.12, 1.14, 1.11, 1.13, 1.15, 1.12, 1.13, 1.14, 1.11, 1.15, 1.12, 1.13, 1.14, 1.12, 1.15, 1.13],
  [1.12, 1.14, 1.13, 1.16, 1.11, 1.13, 1.15, 1.12, 1.19, 1.13, 1.11, 1.14, 1.12, 1.15, 1.13, 1.1, 1.14, 1.12, 1.16, 1.13,
   1.11, 1.14, 1.12, 1.13, 1.15, 1.11, 1.14, 1.13, 1.12, 1.16, 1.13, 1.11, 1.14, 1.12, 1.15, 1.13, 1.1, 1.14, 1.12, 1.13,
   1.16, 1.12, 1.14, 1.11, 1.13, 1.15, 1.12, 1.14, 1.13, 1.11, 1.15, 1.13, 1.12, 1.14, 1.18, 1.12, 1.13, 1.11, 1.15, 1.13,
   1.14, 1.12, 1.11, 1.16, 1.13, 1.12, 1.14, 1.13, 1.1, 1.15, 1.12, 1.14, 1.13, 1.11, 1.15, 1.12, 1.16, 1.13, 1.14, 1.12,
   1.11, 1.15, 1.13, 1.12, 1.14, 1.13, 1.16, 1.11, 1.13, 1.14, 1.12, 1.15, 1.13, 1.11, 1.14, 1.12, 1.13, 1.16, 1.12, 1.14],
];
const veTraceGreen = [
  [-0.69, -0.684, -0.695, -0.688, -0.68, -0.693, -0.687, -0.698, -0.689, -0.683, -0.692, -0.686, -0.696, -0.69, -0.682,
   -0.694, -0.688, -0.691, -0.685, -0.697, -0.689, -0.683, -0.693, -0.687, -0.69, -0.681, -0.695, -0.688, -0.692, -0.686,
   -0.699, -0.689, -0.684, -0.693, -0.687, -0.691, -0.682, -0.694, -0.688, -0.69, -0.685, -0.696, -0.689, -0.683, -0.692,
   -0.687, -0.695, -0.69, -0.684, -0.693, -0.688, -0.681, -0.694, -0.689, -0.686, -0.697, -0.69, -0.684, -0.692, -0.688],
  [-0.687, -0.693, -0.684, -0.691, -0.697, -0.686, -0.69, -0.682, -0.694, -0.688, -0.685, -0.692, -0.689, -0.696, -0.683,
   -0.69, -0.687, -0.694, -0.681, -0.689, -0.693, -0.686, -0.691, -0.698, -0.685, -0.69, -0.688, -0.683, -0.695, -0.689,
   -0.684, -0.692, -0.687, -0.69, -0.696, -0.683, -0.691, -0.686, -0.693, -0.689, -0.682, -0.694, -0.688, -0.691, -0.685,
   -0.697, -0.689, -0.684, -0.692, -0.687, -0.69, -0.695, -0.683, -0.689, -0.693, -0.686, -0.691, -0.688, -0.684, -0.69],
];

// ---- baseline_observation_norm ----
const blGridOrange = [-2.556, -2.45, -2.35, -2.25, -2.15, -2.08, -2.02, -1.96, -1.88, -1.78, -1.68, -1.58, -1.497];
const blKdeOrange = [
  [0.3, 1, 3.8, 12.5, 28, 37.5, 40.5, 37, 26, 11, 3, 0.7, 0.2],
  [0.2, 0.9, 3.5, 12, 28.5, 38.5, 41.5, 37.5, 25.5, 10.5, 2.8, 0.6, 0.2],
  [0.3, 1.1, 4, 13, 28, 37, 40, 36.5, 26.5, 11.5, 3.1, 0.7, 0.2],
  [0.3, 1, 3.6, 12, 27.5, 38, 41, 36, 25.5, 11, 3, 0.7, 0.2],
];
const blGridBlue = [-0.65, -0.6, -0.56, -0.52, -0.49, -0.46, -0.44, -0.42, -0.39, -0.36, -0.32, -0.28, -0.254];
const blKdeBlue = [
  [0.2, 2.6, 12, 38, 65, 87, 92, 87, 64, 37, 12, 2.5, 0.7],
  [0.2, 2.4, 11.5, 37, 66, 90, 96, 88, 63, 36, 11.5, 2.4, 0.6],
  [0.2, 2.5, 12, 38, 65.5, 88, 94, 87, 63, 36.5, 11.8, 2.5, 0.6],
  [0.3, 3, 13, 39, 66, 88, 93, 85, 62, 36, 12, 2.7, 0.7],
];
const blGridGreen = [-1.87, -1.0, -0.5, 0, 0.5, 1.0, 1.3, 1.6, 2.0, 2.5, 3.0, 3.5, 4.11, 4.71];
const blKdeGreen = [
  [0.1, 0.5, 1.1, 2.2, 3.8, 5.6, 6.3, 6.0, 4.6, 2.4, 0.9, 0.3, 0.05, null],
  [0.1, 0.4, 1.0, 2.1, 3.9, 5.8, 6.5, 6.1, 4.5, 2.3, 0.8, 0.3, 0.05, null],
  [0.1, 0.5, 1.2, 2.3, 3.7, 5.5, 6.2, 6.0, 4.7, 2.5, 0.9, 0.3, 0.05, null],
  [0.1, 0.5, 1.1, 2.2, 3.8, 5.7, 6.4, 6.0, 4.5, 2.4, 0.9, 0.35, 0.1, 0.05],
];
const blTraceBlue = [
  [-0.45, -0.41, -0.48, -0.43, -0.5, -0.46, -0.39, -0.47, -0.44, -0.52, -0.42, -0.46, -0.49, -0.4, -0.45, -0.47, -0.43, -0.51, -0.44, -0.38,
   -0.46, -0.48, -0.42, -0.45, -0.53, -0.44, -0.47, -0.41, -0.46, -0.49, -0.43, -0.45, -0.5, -0.42, -0.47, -0.44, -0.36, -0.46, -0.48, -0.43,
   -0.45, -0.51, -0.42, -0.47, -0.44, -0.46, -0.4, -0.49, -0.45, -0.43, -0.47, -0.44, -0.52, -0.41, -0.46, -0.45, -0.48, -0.42, -0.44, -0.5,
   -0.46, -0.43, -0.47, -0.39, -0.45, -0.48, -0.44, -0.46, -0.54, -0.42, -0.45, -0.47, -0.43, -0.49, -0.44, -0.41, -0.46, -0.48, -0.45, -0.43,
   -0.5, -0.44, -0.47, -0.42, -0.46, -0.45, -0.38, -0.48, -0.44, -0.47, -0.43, -0.51, -0.45, -0.42, -0.46, -0.49, -0.44, -0.47, -0.41, -0.45],
  [-0.44, -0.48, -0.42, -0.46, -0.4, -0.47, -0.45, -0.51, -0.43, -0.46, -0.49, -0.41, -0.45, -0.47, -0.37, -0.44, -0.48, -0.43, -0.46, -0.52,
   -0.42, -0.45, -0.47, -0.4, -0.46, -0.44, -0.49, -0.43, -0.45, -0.41, -0.48, -0.46, -0.42, -0.5, -0.44, -0.47, -0.45, -0.39, -0.46, -0.48,
   -0.43, -0.45, -0.47, -0.41, -0.53, -0.44, -0.46, -0.42, -0.48, -0.45, -0.4, -0.47, -0.44, -0.46, -0.49, -0.43, -0.45, -0.41, -0.47, -0.44,
   -0.5, -0.42, -0.46, -0.45, -0.48, -0.38, -0.44, -0.47, -0.43, -0.46, -0.51, -0.45, -0.42, -0.47, -0.44, -0.49, -0.46, -0.41, -0.45, -0.48,
   -0.43, -0.46, -0.4, -0.47, -0.44, -0.52, -0.45, -0.43, -0.48, -0.42, -0.46, -0.44, -0.49, -0.41, -0.47, -0.45, -0.43, -0.5, -0.44, -0.46],
];
const blTraceOrange = [
  [-2.02, -1.88, -2.15, -1.95, -2.08, -1.82, -2.21, -1.99, -2.06, -1.91, -2.12, -1.97, -2.25, -1.86, -2.03, -1.93, -2.1, -2.0, -1.78, -2.14,
   -1.96, -2.07, -1.89, -2.18, -2.01, -1.92, -2.09, -1.84, -2.04, -2.2, -1.98, -1.87, -2.11, -1.94, -2.05, -2.28, -1.9, -2.02, -1.81, -2.13,
   -1.97, -2.08, -1.93, -2.16, -2.0, -1.85, -2.06, -1.95, -2.19, -2.03, -1.88, -2.1, -1.99, -1.76, -2.07, -1.94, -2.12, -2.01, -1.9, -2.17,
   -1.96, -2.04, -1.83, -2.09, -2.0, -2.23, -1.92, -2.05, -1.98, -1.87, -2.14, -2.02, -1.91, -2.08, -1.79, -2.11, -1.97, -2.06, -2.2, -1.93,
   -2.03, -1.86, -2.1, -1.99, -2.15, -1.95, -2.07, -1.89, -2.01, -2.24, -1.94, -2.05, -1.84, -2.12, -1.98, -2.02, -1.9, -2.18, -2.0, -1.96],
  [-1.97, -2.1, -1.9, -2.04, -2.19, -1.93, -2.01, -1.85, -2.13, -1.99, -1.92, -2.07, -2.22, -1.96, -2.03, -1.88, -2.11, -1.98, -2.05, -1.8,
   -2.09, -1.95, -2.16, -2.0, -1.87, -2.12, -1.94, -2.06, -1.91, -2.02, -2.26, -1.97, -2.08, -1.86, -2.14, -1.99, -1.93, -2.05, -2.17, -1.89,
   -2.01, -1.77, -2.1, -1.96, -2.03, -2.2, -1.92, -2.07, -1.98, -1.85, -2.13, -2.0, -1.94, -2.09, -1.88, -2.15, -2.02, -1.95, -2.21, -1.91,
   -2.06, -1.98, -1.83, -2.11, -2.0, -1.93, -2.08, -2.18, -1.96, -2.04, -1.87, -2.12, -1.99, -2.05, -1.9, -2.23, -1.97, -2.02, -1.86, -2.09,
   -1.95, -2.14, -2.01, -1.92, -2.07, -1.81, -2.1, -1.98, -2.04, -2.16, -1.93, -2.0, -2.11, -1.89, -2.06, -1.97, -2.19, -1.94, -2.03, -1.99],
  [-2.05, -1.92, -2.13, -1.98, -2.2, -1.87, -2.03, -2.11, -1.95, -2.08, -1.82, -2.01, -2.16, -1.94, -2.06, -1.99, -2.24, -1.9, -2.04, -1.97,
   -2.12, -1.86, -2.02, -2.09, -1.93, -2.18, -2.0, -1.89, -2.07, -1.96, -2.14, -1.75, -2.03, -2.1, -1.91, -2.05, -1.98, -2.22, -1.94, -2.01,
   -1.88, -2.08, -2.15, -1.97, -2.04, -1.85, -2.11, -1.99, -2.06, -2.19, -1.92, -2.02, -1.96, -2.13, -1.84, -2.07, -2.0, -1.93, -2.17, -2.03,
   -1.98, -2.09, -1.89, -2.05, -2.21, -1.95, -2.01, -1.8, -2.12, -1.97, -2.06, -1.91, -2.14, -2.0, -1.87, -2.08, -1.96, -2.25, -2.02, -1.94,
   -2.1, -1.99, -1.83, -2.05, -2.16, -1.92, -2.03, -1.97, -2.11, -1.9, -2.07, -2.0, -1.95, -2.18, -1.88, -2.04, -2.13, -1.98, -2.02, -1.93],
];
const blTraceGreen = [
  [1.2, 2.3, 0.4, 1.8, -0.3, 1.5, 2.9, 0.8, 1.1, 3.4, 0.2, 1.6, 2.1, -0.8, 1.3, 0.6, 2.6, 1.0, 1.9, 0.1,
   1.4, 3.1, 0.7, 1.7, -1.2, 1.2, 2.4, 0.9, 1.5, 0.3, 2.0, 1.1, 3.6, 0.5, 1.3, -0.5, 1.8, 2.2, 0.8, 1.4,
   0.0, 2.7, 1.2, 0.6, 1.9, 1.0, -0.9, 1.6, 2.5, 0.4, 1.3, 2.0, 0.7, 3.2, 1.1, 0.2, 1.7, 2.3, 0.9, 1.5,
   -0.4, 1.2, 2.8, 0.6, 1.4, 1.9, 0.3, 2.2, 1.0, -1.4, 1.6, 2.6, 0.8, 1.3, 3.9, 0.5, 1.8, 1.1, 2.1, 0.0,
   1.4, 0.7, 2.4, 1.2, -0.6, 1.7, 2.9, 0.9, 1.5, 0.4, 2.0, 1.0, 3.0, 0.6, 1.3, -0.2, 1.8, 2.3, 0.8, 1.2],
  [4.6, 1.7, 2.8, 0.3, 1.4, 2.1, -0.7, 1.0, 3.3, 1.6, 0.5, 1.9, 1.2, 2.5, 0.1, 1.3, 3.8, 0.7, 1.5, -1.0,
   2.2, 1.1, 0.4, 1.8, 2.7, 0.8, 1.4, -0.3, 2.0, 1.0, 0.6, 3.0, 1.3, 1.9, 0.2, 1.6, 2.4, -0.6, 1.1, 0.9,
   2.9, 1.4, 0.5, 1.7, 2.2, 1.0, 0.0, 3.5, 1.2, 0.7, 1.9, -1.1, 1.5, 2.6, 0.8, 1.3, 2.0, 0.4, 1.7, 3.1,
   1.0, 0.3, 2.3, 1.4, -0.2, 1.8, 0.9, 2.7, 1.2, 0.6, 3.4, 1.5, 0.1, 1.9, 1.1, 2.4, -0.8, 1.3, 0.7, 2.1,
   1.6, 0.9, 3.2, 1.2, 0.4, 1.8, 2.5, 0.0, 1.4, 1.0, 2.2, -0.4, 1.7, 0.8, 2.8, 1.3, 0.5, 1.9, 1.1, 2.6],
  [1.5, 0.3, 2.2, 1.0, 3.3, 0.7, 1.8, -0.9, 1.3, 2.6, 0.8, 1.6, 0.1, 2.9, 1.2, 1.9, -0.5, 1.4, 2.4, 0.6,
   3.7, 1.1, 0.4, 1.7, 2.1, -1.3, 1.3, 0.9, 2.7, 1.5, 0.2, 1.8, 3.0, 1.0, 1.4, -0.1, 2.3, 0.7, 1.6, 3.5,
   1.2, 0.5, 2.0, 1.3, -0.7, 1.7, 2.8, 0.9, 1.1, 2.4, 0.3, 1.5, 3.3, 0.8, 1.9, 1.2, -0.3, 2.2, 1.4, 0.6,
   2.6, 1.0, 1.7, -1.6, 1.3, 2.0, 0.4, 3.1, 1.2, 0.8, 1.8, 2.5, 0.1, 1.4, 1.0, 3.6, 0.7, 1.6, 2.2, -0.4,
   1.3, 0.9, 2.8, 1.5, 0.5, 2.0, 1.1, 3.3, 0.6, 1.7, -0.2, 1.4, 2.4, 0.9, 1.2, 3.0, 0.3, 1.8, 1.0, 2.1],
  [2.0, 0.8, 1.4, 3.2, 0.5, 1.7, 1.1, 2.5, -0.6, 1.3, 2.8, 0.9, 1.5, 0.2, 2.2, 1.0, 3.5, 0.6, 1.8, 1.2,
   -0.2, 2.4, 1.4, 0.7, 3.0, 1.1, 1.6, 0.3, 2.6, 1.3, 0.9, 3.8, 1.2, -0.8, 1.9, 1.0, 2.3, 0.5, 1.5, 2.9,
   0.7, 1.3, 2.1, -1.5, 1.6, 1.0, 3.4, 0.8, 1.4, 2.0, 1.2, 0.4, 2.7, 1.5, 0.9, 3.6, 1.1, -0.4, 1.8, 1.3,
   2.4, 0.6, 1.6, 3.2, 1.0, 0.2, 2.1, 1.4, -0.9, 1.7, 2.9, 0.8, 1.3, 4.0, 1.1, 0.5, 1.9, 2.3, 0.7, 1.5,
   3.1, 1.0, -0.3, 1.6, 2.6, 0.9, 1.4, 0.1, 2.2, 1.2, 3.7, 0.6, 1.7, 1.0, 2.5, -0.7, 1.3, 2.0, 0.8, 1.6],
];

// ---- rms_observation_norm ----
const rmsGrid = [0.46, 0.465, 0.47, 0.475, 0.48, 0.485, 0.49, 0.495, 0.5, 0.505, 0.51, 0.515, 0.52, 0.525, 0.53, 0.535, 0.54, 0.545, 0.55, 0.555, 0.56, 0.5665];
const rmsKde = [
  [3.2, 7, 13.5, 24, 36.5, 51, 65, 80, 92, 96, 90, 77, 61, 45, 30.5, 19.5, 11.8, 6.5, 3.2, 1.2, 0.4, 1.0],
  [2.5, 5, 10.5, 20, 32, 47, 62, 77, 87.5, 90.5, 88, 80, 66, 49, 34, 21, 12.5, 7, 3.2, 1.2, 0.4, 0.8],
  [2.8, 6, 12, 22, 34, 49, 64, 79, 90, 92.5, 89, 79, 63, 46.5, 32, 20.5, 12.5, 6.8, 3.3, 1.3, 0.5, 0.9],
  [5, 7.5, 11.5, 20, 31, 46, 64, 82, 94, 93, 88, 78, 64, 47, 32, 20, 12, 6.5, 3, 1.3, 0.7, null],
];
const rmsTrace = [
  [0.512, 0.498, 0.521, 0.505, 0.489, 0.517, 0.503, 0.53, 0.494, 0.509, 0.486, 0.514, 0.5, 0.526, 0.507, 0.492, 0.518, 0.481, 0.51, 0.535,
   0.499, 0.513, 0.49, 0.506, 0.524, 0.496, 0.515, 0.502, 0.477, 0.511, 0.528, 0.504, 0.493, 0.519, 0.501, 0.54, 0.497, 0.508, 0.485, 0.516,
   0.503, 0.522, 0.491, 0.51, 0.499, 0.531, 0.506, 0.472, 0.514, 0.5, 0.519, 0.495, 0.508, 0.527, 0.488, 0.512, 0.503, 0.536, 0.497, 0.51,
   0.523, 0.49, 0.507, 0.516, 0.501, 0.544, 0.494, 0.511, 0.486, 0.52, 0.505, 0.529, 0.498, 0.513, 0.483, 0.509, 0.526, 0.502, 0.517, 0.491,
   0.534, 0.506, 0.496, 0.522, 0.508, 0.479, 0.515, 0.5, 0.548, 0.504, 0.492, 0.518, 0.507, 0.488, 0.513, 0.525, 0.499, 0.51, 0.484, 0.503],
  [0.501, 0.516, 0.493, 0.524, 0.507, 0.485, 0.512, 0.498, 0.533, 0.504, 0.519, 0.49, 0.51, 0.476, 0.514, 0.502, 0.527, 0.495, 0.508, 0.488,
   0.521, 0.505, 0.539, 0.497, 0.511, 0.483, 0.516, 0.503, 0.525, 0.492, 0.509, 0.478, 0.513, 0.5, 0.53, 0.506, 0.489, 0.517, 0.498, 0.546,
   0.494, 0.51, 0.482, 0.519, 0.505, 0.496, 0.523, 0.508, 0.487, 0.514, 0.501, 0.532, 0.497, 0.466, 0.511, 0.506, 0.52, 0.491, 0.515, 0.503,
   0.485, 0.513, 0.528, 0.499, 0.509, 0.493, 0.518, 0.504, 0.541, 0.497, 0.512, 0.488, 0.506, 0.525, 0.5, 0.515, 0.481, 0.51, 0.536, 0.502,
   0.494, 0.519, 0.507, 0.562, 0.498, 0.511, 0.489, 0.522, 0.505, 0.517, 0.493, 0.53, 0.508, 0.501, 0.484, 0.514, 0.506, 0.527, 0.496, 0.512],
  [0.508, 0.495, 0.519, 0.487, 0.512, 0.503, 0.526, 0.491, 0.51, 0.5, 0.534, 0.497, 0.514, 0.483, 0.506, 0.521, 0.499, 0.511, 0.475, 0.516,
   0.504, 0.529, 0.493, 0.508, 0.518, 0.486, 0.512, 0.501, 0.537, 0.496, 0.515, 0.49, 0.507, 0.523, 0.502, 0.48, 0.513, 0.498, 0.52, 0.505,
   0.491, 0.531, 0.509, 0.495, 0.517, 0.484, 0.51, 0.503, 0.527, 0.499, 0.514, 0.488, 0.506, 0.52, 0.497, 0.512, 0.538, 0.501, 0.479, 0.515,
   0.505, 0.524, 0.493, 0.51, 0.5, 0.532, 0.496, 0.517, 0.487, 0.508, 0.522, 0.502, 0.513, 0.47, 0.509, 0.528, 0.498, 0.515, 0.492, 0.506,
   0.519, 0.486, 0.511, 0.543, 0.503, 0.497, 0.516, 0.507, 0.49, 0.524, 0.501, 0.513, 0.495, 0.535, 0.509, 0.488, 0.518, 0.504, 0.498, 0.511],
  [0.503, 0.519, 0.49, 0.511, 0.527, 0.496, 0.508, 0.482, 0.515, 0.5, 0.53, 0.493, 0.512, 0.504, 0.541, 0.497, 0.509, 0.487, 0.521, 0.502,
   0.514, 0.478, 0.506, 0.525, 0.495, 0.51, 0.533, 0.499, 0.516, 0.488, 0.507, 0.522, 0.492, 0.513, 0.501, 0.537, 0.496, 0.511, 0.484, 0.518,
   0.505, 0.494, 0.528, 0.509, 0.498, 0.515, 0.481, 0.506, 0.521, 0.5, 0.512, 0.489, 0.534, 0.503, 0.517, 0.495, 0.51, 0.526, 0.492, 0.507,
   0.499, 0.52, 0.486, 0.513, 0.504, 0.545, 0.497, 0.511, 0.491, 0.522, 0.508, 0.479, 0.516, 0.502, 0.531, 0.494, 0.512, 0.506, 0.489, 0.519,
   0.5, 0.553, 0.505, 0.493, 0.515, 0.509, 0.483, 0.524, 0.498, 0.511, 0.535, 0.496, 0.508, 0.518, 0.487, 0.512, 0.502, 0.529, 0.494, 0.506],
];

const DASHES = [undefined, "5.5 2.4", "9.6 2.4 1.5 2.4", "1.5 2.5"];
const TRACE_DASHES = [undefined, "4 2", "6 2 1.5 2", "1.5 1.5"];
const ROW_TOPS = [30, 225, 420, 615, 810];
const KDE_Y: [number, number] = [-6, 100];
const DRAW_TICKS = [0, 200, 400, 600, 800];

const minus = (s: string) => s.replace("-", "\u2212");
const fmt = (d: number) => (v: number) => minus(v.toFixed(d));

const kdeRows = (grid: number[], vals: (number | null)[]) => grid.map((x, i) => ({ x, y: vals[i] }));
const traceRows = (vals: number[]) => vals.map((y, i) => ({ x: (i * 999) / (vals.length - 1), y }));

interface Kde { grid: number[]; chains: (number | null)[][]; color: string }
interface Trace { chains: number[][]; color: string }
interface Panel {
  title: string;
  xDomain: [number, number];
  xTicks: number[];
  xDec: number;
  kde: Kde[];
  yDomain: [number, number];
  yTicks: number[];
  yDec: number;
  trace: Trace[];
}

const panels: Panel[] = [
  {
    title: "line_area_norm",
    xDomain: [0.333, 1.509], xTicks: [0.4, 0.6, 0.8, 1.0, 1.2, 1.4], xDec: 1,
    kde: [
      { grid: laGridBlue, chains: laKdeBlue, color: C0 },
      { grid: laGridOrange, chains: laKdeOrange, color: C1 },
      { grid: laGridGreen, chains: laKdeGreen, color: C2 },
    ],
    yDomain: [0.33, 1.505], yTicks: [0.5, 1.0, 1.5], yDec: 1,
    trace: [
      { chains: laTraceBlue, color: C0 },
      { chains: laTraceOrange, color: C1 },
      { chains: laTraceGreen, color: C2 },
    ],
  },
  {
    title: "fwhm_norm",
    xDomain: [0.583, 2.214], xTicks: [0.6, 0.8, 1.0, 1.2, 1.4, 1.6, 1.8, 2.0, 2.2], xDec: 1,
    kde: [
      { grid: fwGridBlue, chains: fwKdeBlue, color: C0 },
      { grid: fwGridOrange, chains: fwKdeOrange, color: C1 },
      { grid: fwGridGreen, chains: fwKdeGreen, color: C2 },
    ],
    yDomain: [0.573, 2.21], yTicks: [1.0, 1.5, 2.0], yDec: 1,
    trace: [
      { chains: fwTraceBlue, color: C0 },
      { chains: fwTraceOrange, color: C1 },
      { chains: fwTraceGreen, color: C2 },
    ],
  },
  {
    title: "velocity_norm",
    xDomain: [-0.818, 1.325], xTicks: [-0.75, -0.5, -0.25, 0, 0.25, 0.5, 0.75, 1.0, 1.25], xDec: 2,
    kde: [
      { grid: veGridBlue, chains: veKdeBlue, color: C0 },
      { grid: veGridOrange, chains: veKdeOrange, color: C1 },
      { grid: veGridGreen, chains: veKdeGreen, color: C2 },
    ],
    yDomain: [-0.81, 1.305], yTicks: [0, 1], yDec: 0,
    trace: [
      { chains: veTraceBlue, color: C0 },
      { chains: veTraceOrange, color: C1 },
      { chains: veTraceGreen, color: C2 },
    ],
  },
  {
    title: "baseline_observation_norm",
    xDomain: [-2.915, 5.085], xTicks: [-2, -1, 0, 1, 2, 3, 4, 5], xDec: 0,
    kde: [
      { grid: blGridBlue, chains: blKdeBlue, color: C0 },
      { grid: blGridOrange, chains: blKdeOrange, color: C1 },
      { grid: blGridGreen, chains: blKdeGreen, color: C2 },
    ],
    yDomain: [-2.95, 5.04], yTicks: [-2.5, 0, 2.5, 5.0], yDec: 1,
    trace: [
      { chains: blTraceBlue, color: C0 },
      { chains: blTraceOrange, color: C1 },
      { chains: blTraceGreen, color: C2 },
    ],
  },
  {
    title: "rms_observation_norm",
    xDomain: [0.4546, 0.5716], xTicks: [0.46, 0.48, 0.5, 0.52, 0.54, 0.56], xDec: 2,
    kde: [{ grid: rmsGrid, chains: rmsKde, color: C0 }],
    yDomain: [0.455, 0.5714], yTicks: [0.5, 0.55], yDec: 2,
    trace: [{ chains: rmsTrace, color: C0 }],
  },
];

const tickStyle = { fill: "#000", fontSize: 14, fontFamily: FONT };

function Title({ text, left, width, top }: { text: string; left: number; width: number; top: number }) {
  return (
    <div
      style={{
        position: "absolute",
        left,
        width,
        top: top - 22,
        textAlign: "center",
        fontSize: 16,
        lineHeight: "16px",
        fontFamily: FONT,
        color: "#000",
      }}
    >
      {text}
    </div>
  );
}

function DensityChart({ p, top }: { p: Panel; top: number }) {
  return (
    <div style={{ position: "absolute", left: 0, top: top - 30 }}>
      <LineChart width={570} height={200} margin={{ top: 30, right: 17, bottom: 17, left: 13 }}>
        <CartesianGrid horizontal={false} stroke="#b0b0b0" strokeWidth={1} />
        <XAxis
          type="number"
          dataKey="x"
          domain={p.xDomain}
          ticks={p.xTicks}
          interval={0}
          allowDataOverflow
          tickFormatter={fmt(p.xDec)}
          height={30}
          tickSize={5}
          tickMargin={2}
          axisLine={false}
          tickLine={{ stroke: "#000" }}
          tick={tickStyle}
        />
        <YAxis type="number" hide domain={KDE_Y} allowDataOverflow />
        {p.kde.flatMap((c, ci) =>
          c.chains.map((vals, k) => (
            <Line
              key={`k${ci}-${k}`}
              data={kdeRows(c.grid, vals)}
              dataKey="y"
              type="monotone"
              stroke={c.color}
              strokeWidth={1.5}
              strokeDasharray={DASHES[k]}
              dot={false}
              activeDot={false}
              isAnimationActive={false}
            />
          ))
        )}
        <ReferenceArea x1={p.xDomain[0]} x2={p.xDomain[1]} y1={KDE_Y[0]} y2={KDE_Y[1]} fill="none" stroke="#000" strokeWidth={1} />
      </LineChart>
    </div>
  );
}

function TraceChart({ p, top }: { p: Panel; top: number }) {
  return (
    <div style={{ position: "absolute", left: 570, top: top - 30 }}>
      <LineChart width={600} height={200} margin={{ top: 30, right: 10, bottom: 17, left: 0 }}>
        <CartesianGrid stroke="#b0b0b0" strokeWidth={1} />
        <XAxis
          type="number"
          dataKey="x"
          domain={[0, 999]}
          ticks={DRAW_TICKS}
          interval={0}
          allowDataOverflow
          height={30}
          tickSize={5}
          tickMargin={2}
          axisLine={false}
          tickLine={{ stroke: "#000" }}
          tick={tickStyle}
        />
        <YAxis
          type="number"
          domain={p.yDomain}
          ticks={p.yTicks}
          interval={0}
          allowDataOverflow
          tickFormatter={fmt(p.yDec)}
          width={51}
          tickSize={5}
          tickMargin={3}
          axisLine={false}
          tickLine={{ stroke: "#000" }}
          tick={tickStyle}
        />
        {p.trace.flatMap((c, ci) =>
          c.chains.map((vals, k) => (
            <Line
              key={`t${ci}-${k}`}
              data={traceRows(vals)}
              dataKey="y"
              type="linear"
              stroke={c.color}
              strokeOpacity={0.5}
              strokeWidth={1.4}
              strokeDasharray={TRACE_DASHES[k]}
              dot={false}
              activeDot={false}
              isAnimationActive={false}
            />
          ))
        )}
        <ReferenceArea x1={0} x2={999} y1={p.yDomain[0]} y2={p.yDomain[1]} fill="none" stroke="#000" strokeWidth={1} />
      </LineChart>
    </div>
  );
}

export default function App() {
  return (
    <div style={{ position: "absolute", left: 0, top: 0, width: 1170, height: 972, background: "#fff", overflow: "hidden" }}>
      {panels.map((p, i) => (
        <div key={p.title}>
          <Title text={p.title} left={13} width={540} top={ROW_TOPS[i]} />
          <Title text={p.title} left={621} width={539} top={ROW_TOPS[i]} />
          <DensityChart p={p} top={ROW_TOPS[i]} />
          <TraceChart p={p} top={ROW_TOPS[i]} />
        </div>
      ))}
    </div>
  );
}
